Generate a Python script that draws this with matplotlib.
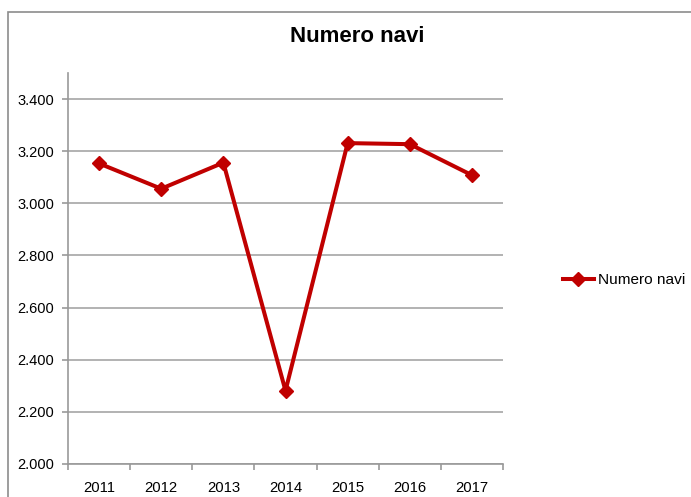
import matplotlib
matplotlib.use("Agg")
import matplotlib.pyplot as plt
from matplotlib.patches import Rectangle

years = ["2011", "2012", "2013", "2014", "2015", "2016", "2017"]
values = [3153, 3056, 3156, 2281, 3231, 3227, 3108]
series_name = "Numero navi"
yticks = [2000, 2200, 2400, 2600, 2800, 3000, 3200, 3400]
ytick_labels = ["2.000", "2.200", "2.400", "2.600", "2.800", "3.000", "3.200", "3.400"]

plt.rcParams['font.family'] = ['Liberation Sans', 'DejaVu Sans']

W, H = 691, 497
fig = plt.figure(figsize=(W / 100, H / 100), dpi=100)
fig.patch.set_facecolor("white")

# outer chart frame (right and bottom edges fall outside the image)
fig.patches.append(Rectangle((8 / W, -0.5), 3, 1.5 - 12 / H,
                             transform=fig.transFigure, fill=False,
                             edgecolor="#8c8c8c", linewidth=1.2))

ax = fig.add_axes([68 / W, 1 - 464 / H, (503 - 68) / W, (464 - 73) / H])
x = list(range(len(years)))
ax.plot(x, values, color="#C00000", linewidth=2.9, marker="D", markersize=7,
        label=series_name)

ax.set_xlim(-0.5, len(years) - 0.5)
ax.set_ylim(2000, 3500)
ax.set_yticks(yticks)
ax.set_yticklabels(ytick_labels, fontsize=10.5)
ax.set_xticks(x)
ax.set_xticklabels(years, fontsize=10.7)
ax.set_xticks([i - 0.5 for i in range(len(years) + 1)], minor=True)
ax.tick_params(axis="x", which="major", length=0, pad=12)
ax.tick_params(axis="x", which="minor", length=4, color="#999999", width=1.2, direction="out")
ax.tick_params(axis="y", length=4, color="#999999", width=1.2, direction="out", pad=6)

ax.grid(axis="y", color="#a6a6a6", linewidth=1.2)
ax.set_axisbelow(True)
for s in ["top", "right"]:
    ax.spines[s].set_visible(False)
for s in ["left", "bottom"]:
    ax.spines[s].set_color("#999999")
    ax.spines[s].set_linewidth(1.2)

fig.text(357 / W, 1 - 37 / H, "Numero navi", fontsize=16, fontweight="bold",
         ha="center", va="center")

leg = fig.legend(loc="center left", bbox_to_anchor=(555 / W, 1 - 280 / H),
                 frameon=False, fontsize=11.1, handlelength=2.0, handletextpad=0.3,
                 borderpad=0)

fig.savefig("out.png", dpi=100)
